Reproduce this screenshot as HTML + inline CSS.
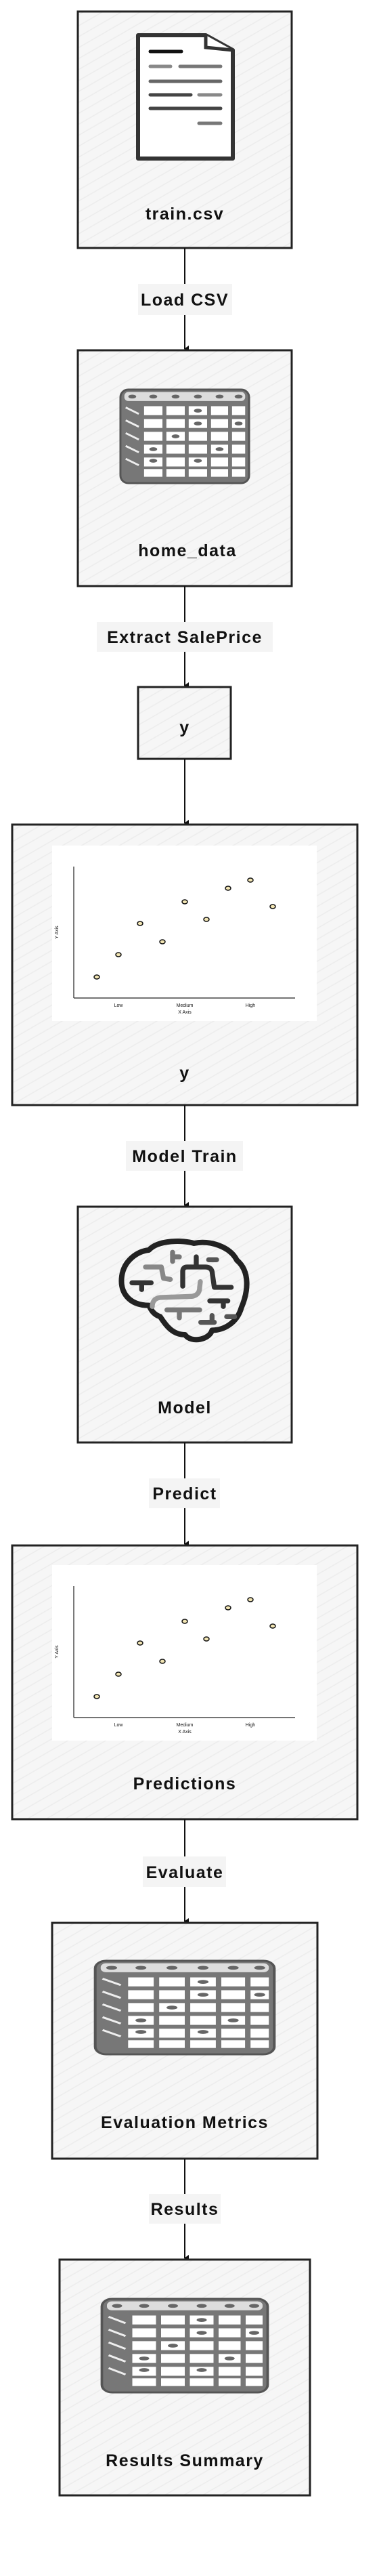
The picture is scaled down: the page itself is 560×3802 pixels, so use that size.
<!DOCTYPE html>
<html><head><meta charset="utf-8"><style>
html,body{margin:0;padding:0;background:#fff;}
svg{display:block;}
text{font-family:"Comic Sans MS","Liberation Sans",sans-serif;fill:#111;}
.lbl{font-size:25px;font-weight:bold;letter-spacing:1.5px;text-anchor:middle;}
.box{fill:url(#hatch);stroke:#222;stroke-width:3;}
.ax{font-size:7px;text-anchor:middle;font-family:"Liberation Sans",sans-serif;}
</style></head><body>
<svg width="560" height="3802" viewBox="0 0 560 3802" xmlns="http://www.w3.org/2000/svg">
<defs>
<pattern id="hatch" width="14" height="14" patternUnits="userSpaceOnUse" patternTransform="rotate(-30)">
<rect width="14" height="14" fill="#f6f6f6"/>
<line x1="0" y1="7" x2="14" y2="7" stroke="#ececec" stroke-width="1.5"/>
</pattern>
<marker id="arr" markerWidth="10" markerHeight="10" refX="5" refY="8" orient="auto" markerUnits="userSpaceOnUse">
<path d="M0,2 L10,2 L5,9 Z" fill="#111"/>
</marker>
<symbol id="tbl" viewBox="0 0 200 150" preserveAspectRatio="none">
<rect x="2" y="2" width="196" height="146" rx="12" fill="#777" stroke="#555" stroke-width="3"/>
<g fill="#fff">
<rect x="38" y="28" width="28" height="14"/><rect x="72" y="28" width="28" height="14"/><rect x="106" y="28" width="28" height="14"/><rect x="140" y="28" width="26" height="14"/><rect x="172" y="28" width="20" height="14"/>
<rect x="38" y="48" width="28" height="14"/><rect x="72" y="48" width="28" height="14"/><rect x="106" y="48" width="28" height="14"/><rect x="140" y="48" width="26" height="14"/><rect x="172" y="48" width="20" height="14"/>
<rect x="38" y="68" width="28" height="14"/><rect x="72" y="68" width="28" height="14"/><rect x="106" y="68" width="28" height="14"/><rect x="140" y="68" width="26" height="14"/><rect x="172" y="68" width="20" height="14"/>
<rect x="38" y="88" width="28" height="14"/><rect x="72" y="88" width="28" height="14"/><rect x="106" y="88" width="28" height="14"/><rect x="140" y="88" width="26" height="14"/><rect x="172" y="88" width="20" height="14"/>
<rect x="38" y="108" width="28" height="14"/><rect x="72" y="108" width="28" height="14"/><rect x="106" y="108" width="28" height="14"/><rect x="140" y="108" width="26" height="14"/><rect x="172" y="108" width="20" height="14"/>
<rect x="38" y="126" width="28" height="12"/><rect x="72" y="126" width="28" height="12"/><rect x="106" y="126" width="28" height="12"/><rect x="140" y="126" width="26" height="12"/><rect x="172" y="126" width="20" height="12"/>
<rect x="8" y="6" width="184" height="14" rx="6" fill="#ddd"/>
</g>
<g stroke="#eee" stroke-width="3"><path d="M10,30 L30,40 M10,50 L30,60 M10,70 L30,80 M10,90 L30,100 M10,110 L30,120"/></g>
<g fill="#666"><ellipse cx="20" cy="13" rx="6" ry="3"/><ellipse cx="52" cy="13" rx="6" ry="3"/><ellipse cx="86" cy="13" rx="6" ry="3"/><ellipse cx="120" cy="13" rx="6" ry="3"/><ellipse cx="153" cy="13" rx="6" ry="3"/><ellipse cx="182" cy="13" rx="6" ry="3"/>
<ellipse cx="120" cy="35" rx="6" ry="3"/><ellipse cx="120" cy="55" rx="6" ry="3"/><ellipse cx="182" cy="55" rx="6" ry="3"/><ellipse cx="86" cy="75" rx="6" ry="3"/><ellipse cx="52" cy="95" rx="6" ry="3"/><ellipse cx="153" cy="95" rx="6" ry="3"/><ellipse cx="52" cy="113" rx="6" ry="3"/><ellipse cx="120" cy="113" rx="6" ry="3"/></g>
</symbol>
<symbol id="chart" viewBox="0 0 391 259" preserveAspectRatio="none">
<rect width="391" height="259" fill="#fff"/>
<line x1="32" y1="31" x2="32" y2="225" stroke="#222" stroke-width="1.2"/>
<line x1="32" y1="225" x2="359" y2="225" stroke="#222" stroke-width="1.2"/>
<g fill="#f3e6b4" stroke="#111" stroke-width="1.5">
<ellipse cx="66" cy="194" rx="4" ry="3"/><ellipse cx="98" cy="161" rx="4" ry="3"/><ellipse cx="130" cy="115" rx="4" ry="3"/><ellipse cx="163" cy="142" rx="4" ry="3"/><ellipse cx="196" cy="83" rx="4" ry="3"/><ellipse cx="228" cy="109" rx="4" ry="3"/><ellipse cx="260" cy="63" rx="4" ry="3"/><ellipse cx="293" cy="51" rx="4" ry="3"/><ellipse cx="326" cy="90" rx="4" ry="3"/>
</g>
<text class="ax" x="98" y="238">Low</text><text class="ax" x="196" y="238">Medium</text><text class="ax" x="293" y="238">High</text>
<text class="ax" x="196" y="248">X Axis</text>
<text class="ax" x="9" y="128" transform="rotate(-90 9 128)">Y Axis</text>
</symbol>
</defs>

<!-- Box 1 -->
<rect class="box" x="115" y="17" width="316" height="349"/>
<g transform="translate(200,48)">
<path d="M4,4 L104,4 L144,26 L144,186 L4,186 Z" fill="#fff" stroke="#333" stroke-width="6" stroke-linejoin="round"/>
<path d="M104,4 L104,22 L144,26" fill="#fff" stroke="#333" stroke-width="5"/>
<g stroke-linecap="round" stroke-width="5">
<line x1="22" y1="28" x2="68" y2="28" stroke="#111"/>
<line x1="22" y1="50" x2="52" y2="50" stroke="#888"/><line x1="66" y1="50" x2="126" y2="50" stroke="#777"/>
<line x1="22" y1="72" x2="126" y2="72" stroke="#666"/>
<line x1="22" y1="92" x2="82" y2="92" stroke="#444"/><line x1="94" y1="92" x2="126" y2="92" stroke="#888"/>
<line x1="22" y1="112" x2="126" y2="112" stroke="#444"/>
<line x1="94" y1="134" x2="126" y2="134" stroke="#777"/>
</g>
</g>
<text class="lbl" x="273" y="324">train.csv</text>

<line x1="273" y1="366" x2="273" y2="515" stroke="#111" stroke-width="2" marker-end="url(#arr)"/>
<rect x="204" y="419" width="139" height="46" fill="#f4f4f4"/>
<text class="lbl" x="273" y="451">Load CSV</text>

<!-- Box 2 -->
<rect class="box" x="115" y="517" width="316" height="348"/>
<use href="#tbl" x="176" y="573" width="194" height="142"/>
<text class="lbl" x="277" y="821">home_data</text>

<line x1="273" y1="865" x2="273" y2="1012" stroke="#111" stroke-width="2" marker-end="url(#arr)"/>
<rect x="143" y="918" width="260" height="44" fill="#f4f4f4"/>
<text class="lbl" x="273" y="949">Extract SalePrice</text>

<!-- Box 3 -->
<rect class="box" x="204" y="1014" width="137" height="106"/>
<text class="lbl" x="273" y="1082">y</text>

<line x1="273" y1="1120" x2="273" y2="1215" stroke="#111" stroke-width="2" marker-end="url(#arr)"/>

<!-- Box 4 -->
<rect class="box" x="18" y="1217" width="510" height="414"/>
<use href="#chart" x="77" y="1248" width="391" height="259"/>
<text class="lbl" x="273" y="1592">y</text>

<line x1="273" y1="1631" x2="273" y2="1779" stroke="#111" stroke-width="2" marker-end="url(#arr)"/>
<rect x="186" y="1684" width="173" height="44" fill="#f4f4f4"/>
<text class="lbl" x="273" y="1715">Model Train</text>

<!-- Box 5 -->
<rect class="box" x="115" y="1781" width="316" height="348"/>
<g transform="translate(170,1820) scale(0.3333)" fill="none" stroke-linecap="round" stroke-linejoin="round">
<path d="M150,320 C60,320 20,260 30,190 C40,120 100,80 150,75 C190,30 300,30 350,45 C420,30 510,60 540,120 C600,170 590,260 560,330 C540,400 480,430 430,430 C420,470 340,490 310,450 C250,450 220,400 200,370 C170,360 160,340 150,320 Z" stroke="#222" stroke-width="24"/>
<g stroke-width="22">
<path d="M75,220 L160,220 M118,220 L118,250" stroke="#333"/>
<path d="M135,150 L205,150 L215,200 L245,205" stroke="#888"/>
<path d="M255,85 L255,125 M255,105 L285,105" stroke="#777"/>
<path d="M300,235 L300,170 Q300,150 320,150 L400,150 Q425,150 430,170 L440,240 L515,240 M360,150 L360,105" stroke="#333"/>
<path d="M415,118 L450,118" stroke="#555"/>
<path d="M165,325 Q165,290 200,285 L340,280 Q375,275 375,240 L378,215" stroke="#999"/>
<path d="M230,340 L375,340 M285,340 L285,375" stroke="#777"/>
<path d="M420,300 L500,300 M480,300 L480,325" stroke="#333"/>
<path d="M380,395 L440,395 M430,395 L430,365" stroke="#555"/>
<path d="M495,370 L530,370" stroke="#555"/>
</g>
</g>
<text class="lbl" x="273" y="2086">Model</text>

<line x1="273" y1="2129" x2="273" y2="2279" stroke="#111" stroke-width="2" marker-end="url(#arr)"/>
<rect x="220" y="2182" width="105" height="44" fill="#f4f4f4"/>
<text class="lbl" x="273" y="2213">Predict</text>

<!-- Box 6 -->
<rect class="box" x="18" y="2281" width="510" height="404"/>
<use href="#chart" x="77" y="2310" width="391" height="259"/>
<text class="lbl" x="273" y="2641">Predictions</text>

<line x1="273" y1="2685" x2="273" y2="2836" stroke="#111" stroke-width="2" marker-end="url(#arr)"/>
<rect x="211" y="2740" width="123" height="45" fill="#f4f4f4"/>
<text class="lbl" x="273" y="2772">Evaluate</text>

<!-- Box 7 -->
<rect class="box" x="77" y="2838" width="392" height="348"/>
<use href="#tbl" x="138" y="2892" width="270" height="142"/>
<text class="lbl" x="273" y="3141">Evaluation Metrics</text>

<line x1="273" y1="3186" x2="273" y2="3333" stroke="#111" stroke-width="2" marker-end="url(#arr)"/>
<rect x="220" y="3238" width="106" height="44" fill="#f4f4f4"/>
<text class="lbl" x="273" y="3269">Results</text>

<!-- Box 8 -->
<rect class="box" x="88" y="3335" width="370" height="348"/>
<use href="#tbl" x="148" y="3391" width="250" height="142"/>
<text class="lbl" x="273" y="3640">Results Summary</text>
</svg>
</body></html>
